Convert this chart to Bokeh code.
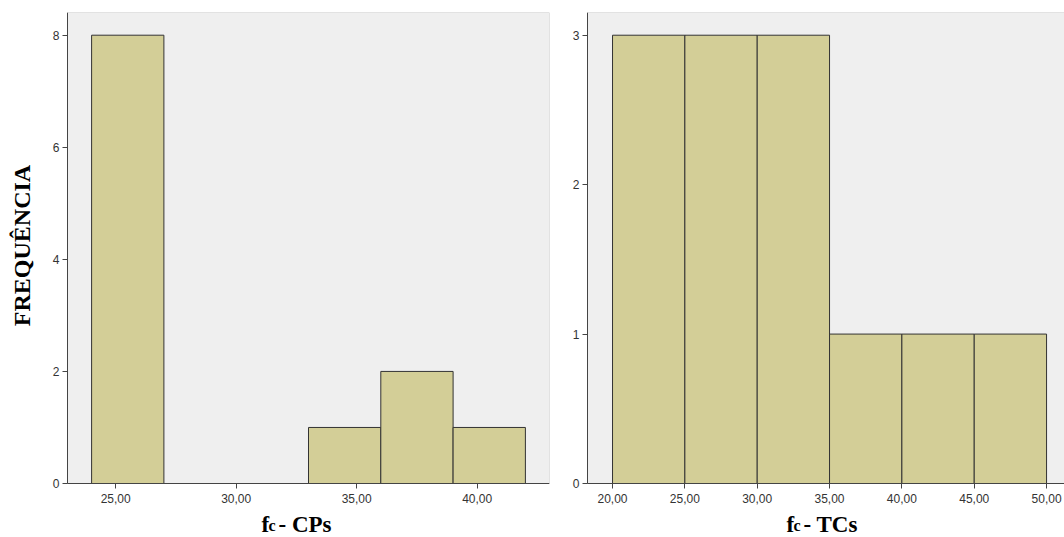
import math
from bokeh.plotting import figure
from bokeh.layouts import row
from bokeh.models import FixedTicker, Label, ColumnDataSource, Range1d, BoxAnnotation
from bokeh.embed import file_html
from bokeh.resources import INLINE

# ---- data ----
cp_left = [24, 27, 30, 33, 36, 39]
cp_right = [27, 30, 33, 36, 39, 42]
cp_counts = [8, 0, 0, 1, 2, 1]

tc_left = [20, 25, 30, 35, 40, 45]
tc_right = [25, 30, 35, 40, 45, 50]
tc_counts = [3, 3, 3, 1, 1, 1]

cp_xticks = [25, 30, 35, 40]
cp_xlabels = ["25,00", "30,00", "35,00", "40,00"]
tc_xticks = [20, 25, 30, 35, 40, 45, 50]
tc_xlabels = ["20,00", "25,00", "30,00", "35,00", "40,00", "45,00", "50,00"]
cp_yticks = [0, 2, 4, 6, 8]
tc_yticks = [0, 1, 2, 3]

y_title = "FREQUÊNCIA"
cp_title = ("f", "c", "- CPs")
tc_title = ("f", "c", "- TCs")

BAR = "#D3CE97"
BG = "#EFEFEF"
EDGE = "#333333"
AX = "#444444"
SERIF = "Liberation Serif"
SANS = "Liberation Sans"

H = 537
TOP = 12      # frame top (px)
ZERO = 483    # pixel row of y = 0


def make(lefts, rights, counts, xr, ytop, xticks, xlabels, yticks, width,
         pad_left, br, title_x, title_parts, ylabel=None):
    ybot = -ytop * (H - ZERO) / (ZERO - TOP)
    gray_w = width - pad_left - br
    ppu = gray_w / (xr[1] - xr[0])
    x0 = xr[0] - pad_left / ppu
    p = figure(width=width, height=H, x_range=Range1d(x0, xr[1]), y_range=Range1d(ybot, ytop),
               output_backend="svg", toolbar_location=None,
               min_border_left=0, min_border_right=br,
               min_border_top=TOP, min_border_bottom=0)
    p.background_fill_color = "white"
    p.border_fill_color = "white"
    p.outline_line_color = None
    p.grid.visible = False
    p.add_layout(BoxAnnotation(left=xr[0], bottom=0, fill_color=BG, fill_alpha=1,
                               line_color="#555555", line_width=1, level="underlay"))
    src = ColumnDataSource(dict(left=lefts, right=rights, top=counts,
                                bottom=[0] * len(counts)))
    p.quad(left="left", right="right", top="top", bottom="bottom", source=src,
           fill_color=BAR, line_color=EDGE, line_width=1)
    for ax in (p.xaxis[0], p.yaxis[0]):
        ax.axis_line_color = AX
        ax.major_tick_line_color = AX
        ax.minor_tick_line_color = None
        ax.major_tick_in = 0
        ax.major_tick_out = 5
        ax.major_label_text_font = SANS
        ax.major_label_text_font_size = "12px"
        ax.major_label_text_color = "#333333"
    p.xaxis[0].ticker = FixedTicker(ticks=xticks)
    p.xaxis[0].major_label_overrides = {t: l for t, l in zip(xticks, xlabels)}
    p.xaxis[0].major_label_standoff = 5
    p.xaxis[0].fixed_location = 0
    p.xaxis[0].bounds = (xr[0], xr[1])
    p.yaxis[0].ticker = FixedTicker(ticks=yticks)
    p.yaxis[0].major_label_standoff = 3
    p.yaxis[0].fixed_location = xr[0]
    p.yaxis[0].bounds = (0, ytop)
    if ylabel:
        p.add_layout(Label(x=21, y=H - 245, x_units="screen", y_units="screen", text=ylabel,
                           angle=math.pi / 2, text_align="center", text_baseline="alphabetic",
                           text_font=SERIF, text_font_size="24px", text_font_style="bold",
                           text_color="black"))
    f, c, rest = title_parts
    yb = 13
    p.add_layout(Label(x=title_x, y=yb, x_units="screen", y_units="screen", text=f,
                       text_font=SERIF, text_font_size="23px", text_font_style="bold",
                       text_color="black", text_baseline="alphabetic"))
    p.add_layout(Label(x=title_x + 7, y=yb - 1, x_units="screen", y_units="screen", text=c,
                       text_font=SERIF, text_font_size="16px", text_font_style="bold",
                       text_color="black", text_baseline="alphabetic"))
    p.add_layout(Label(x=title_x + 17, y=yb, x_units="screen", y_units="screen", text=rest,
                       text_font=SERIF, text_font_size="23px", text_font_style="bold",
                       text_color="black", text_baseline="alphabetic"))
    return p


p1 = make(cp_left, cp_right, cp_counts, (23.0, 43.0), 8.405, cp_xticks, cp_xlabels,
          cp_yticks, 568, 67, 19, 261, cp_title, ylabel=y_title)
p2 = make(tc_left, tc_right, tc_counts, (18.27, 51.24), 3.152, tc_xticks, tc_xlabels,
          tc_yticks, 496, 19, 0, 218, tc_title)

layout = row(p1, p2, spacing=0)
open("out.html", "w").write(file_html(layout, INLINE))
